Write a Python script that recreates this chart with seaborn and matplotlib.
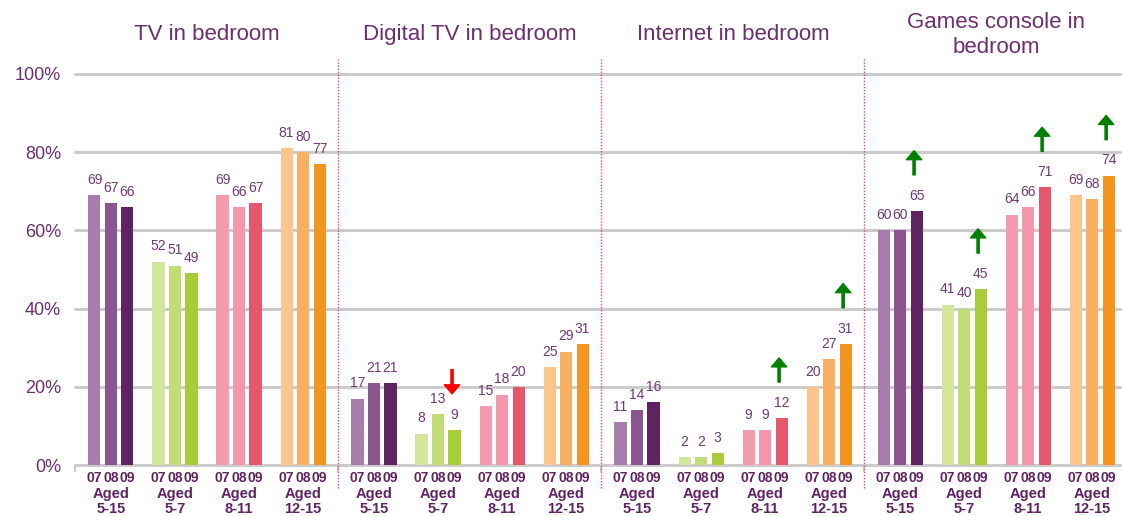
import numpy as np
import pandas as pd
import seaborn as sns
import matplotlib.pyplot as plt

# Chart data
panels = ["TV in bedroom", "Digital TV in bedroom", "Internet in bedroom", "Games console in\nbedroom"]
ages = ["Aged\n5-15", "Aged\n5-7", "Aged\n8-11", "Aged\n12-15"]
years = ["07", "08", "09"]

tv_bedroom = [69, 67, 66, 52, 51, 49, 69, 66, 67, 81, 80, 77]
digital_tv_bedroom = [17, 21, 21, 8, 13, 9, 15, 18, 20, 25, 29, 31]
internet_bedroom = [11, 14, 16, 2, 2, 3, 9, 9, 12, 20, 27, 31]
games_bedroom = [60, 60, 65, 41, 40, 45, 64, 66, 71, 69, 68, 74]

# significant change 2008 -> 2009 per age group (+1 up, -1 down)
tv_change = [0, 0, 0, 0]
digital_change = [0, -1, 0, 0]
internet_change = [0, 0, 1, 1]
games_change = [1, 1, 1, 1]

all_values = [tv_bedroom, digital_tv_bedroom, internet_bedroom, games_bedroom]
all_changes = [tv_change, digital_change, internet_change, games_change]

# colours per age group, one shade per year
age_colors = [
    ["#A67DAB", "#8B558F", "#5F2361"],
    ["#D4E69C", "#C3DD76", "#A9CD37"],
    ["#F59BB0", "#F497AD", "#E5576A"],
    ["#FCC68A", "#FAB062", "#F49522"],
]
text_purple = "#6B2F6E"

# layout (units of one bar step)
PANEL_STEP = 15.94
GROUP_STEP = 3.88
FIRST_GROUP = 2.18
X_MAX = 63.33

rows = []
for p, vals in enumerate(all_values):
    for g in range(len(ages)):
        for y in range(len(years)):
            rows.append({
                "panel": p, "group": g, "year": years[y],
                "x": p * PANEL_STEP + FIRST_GROUP + g * GROUP_STEP + (y - 1),
                "value": vals[g * 3 + y],
                "key": f"{p}-{g}-{y}",
                "color": age_colors[g][y],
            })
df = pd.DataFrame(rows)
palette = dict(zip(df["key"], df["color"]))

sns.set_style("white")
plt.rcParams["font.family"] = ["Liberation Sans", "DejaVu Sans"]

fig = plt.figure(figsize=(11.23, 5.16), dpi=100)
ax = fig.add_axes([75 / 1123, 51 / 516, 1045 / 1123, 391 / 516])

sns.barplot(data=df, x="x", y="value", hue="key", palette=palette, native_scale=True,
            dodge=False, width=0.73, saturation=1, errorbar=None, legend=False, ax=ax,
            linewidth=0, zorder=3)

ax.set_xlim(0, X_MAX)
ax.set_ylim(0, 100)
ax.set_xlabel("")
ax.set_ylabel("")
for s in ax.spines.values():
    s.set_visible(False)

# grid
ax.set_yticks([0, 20, 40, 60, 80, 100])
ax.set_yticklabels(["0%", "20%", "40%", "60%", "80%", "100%"], fontsize=13, color=text_purple)
ax.tick_params(axis="y", length=0, pad=10)
for yv in [0, 20, 40, 60, 80, 100]:
    ax.axhline(yv, color="#CBCBCB", lw=2.2, zorder=1, clip_on=False)

# little ticks on the baseline at panel boundaries
bounds = [p * PANEL_STEP for p in range(len(panels))]
ax.set_xticks(bounds)
ax.set_xticklabels([])
ax.tick_params(axis="x", length=5, width=1.5, color="#CBCBCB", bottom=True)

# panel separators
for b in bounds[1:]:
    ax.plot([b, b], [-6, 104], color="#E0457B", lw=1, ls=(0, (1, 1.2)), clip_on=False, zorder=2)

# titles
for p, title in enumerate(panels):
    cx = p * PANEL_STEP + FIRST_GROUP + 1.5 * GROUP_STEP
    ax.text(cx, 110, title, ha="center", va="center", fontsize=16, color=text_purple,
            linespacing=1.25)

# value labels, year labels, age labels
for _, r in df.iterrows():
    ax.annotate(f"{r['value']}", (r["x"], r["value"]), xytext=(0, 11), textcoords="offset points",
                ha="center", va="center", fontsize=10, color="#6E3A72", zorder=4)
    ax.text(r["x"], -3.3, r["year"], ha="center", va="center", fontsize=10,
            fontweight="bold", color="#5F2361", clip_on=False)

for p in range(len(panels)):
    for g, age in enumerate(ages):
        cx = p * PANEL_STEP + FIRST_GROUP + g * GROUP_STEP
        ax.text(cx, -9.4, age, ha="center", va="center", fontsize=10.5, fontweight="bold",
                color="#5F2361", linespacing=1.1, clip_on=False)

# change arrows above the 2009 bar
for p, changes in enumerate(all_changes):
    for g, ch in enumerate(changes):
        if ch == 0:
            continue
        x09 = p * PANEL_STEP + FIRST_GROUP + g * GROUP_STEP + 1
        v = all_values[p][g * 3 + 2]
        low, high = v + 9.2, v + 15.4
        if ch > 0:
            tip, tail, col = high, low, "#008000"
        else:
            tip, tail, col = low, high, "#FF0000"
        ax.annotate("", xy=(x09 - 0.15, tip), xytext=(x09 - 0.15, tail),
                    arrowprops=dict(width=1.6, headwidth=11, headlength=6.5, color=col, shrink=0),
                    zorder=5)

fig.savefig("out.png", dpi=100)
